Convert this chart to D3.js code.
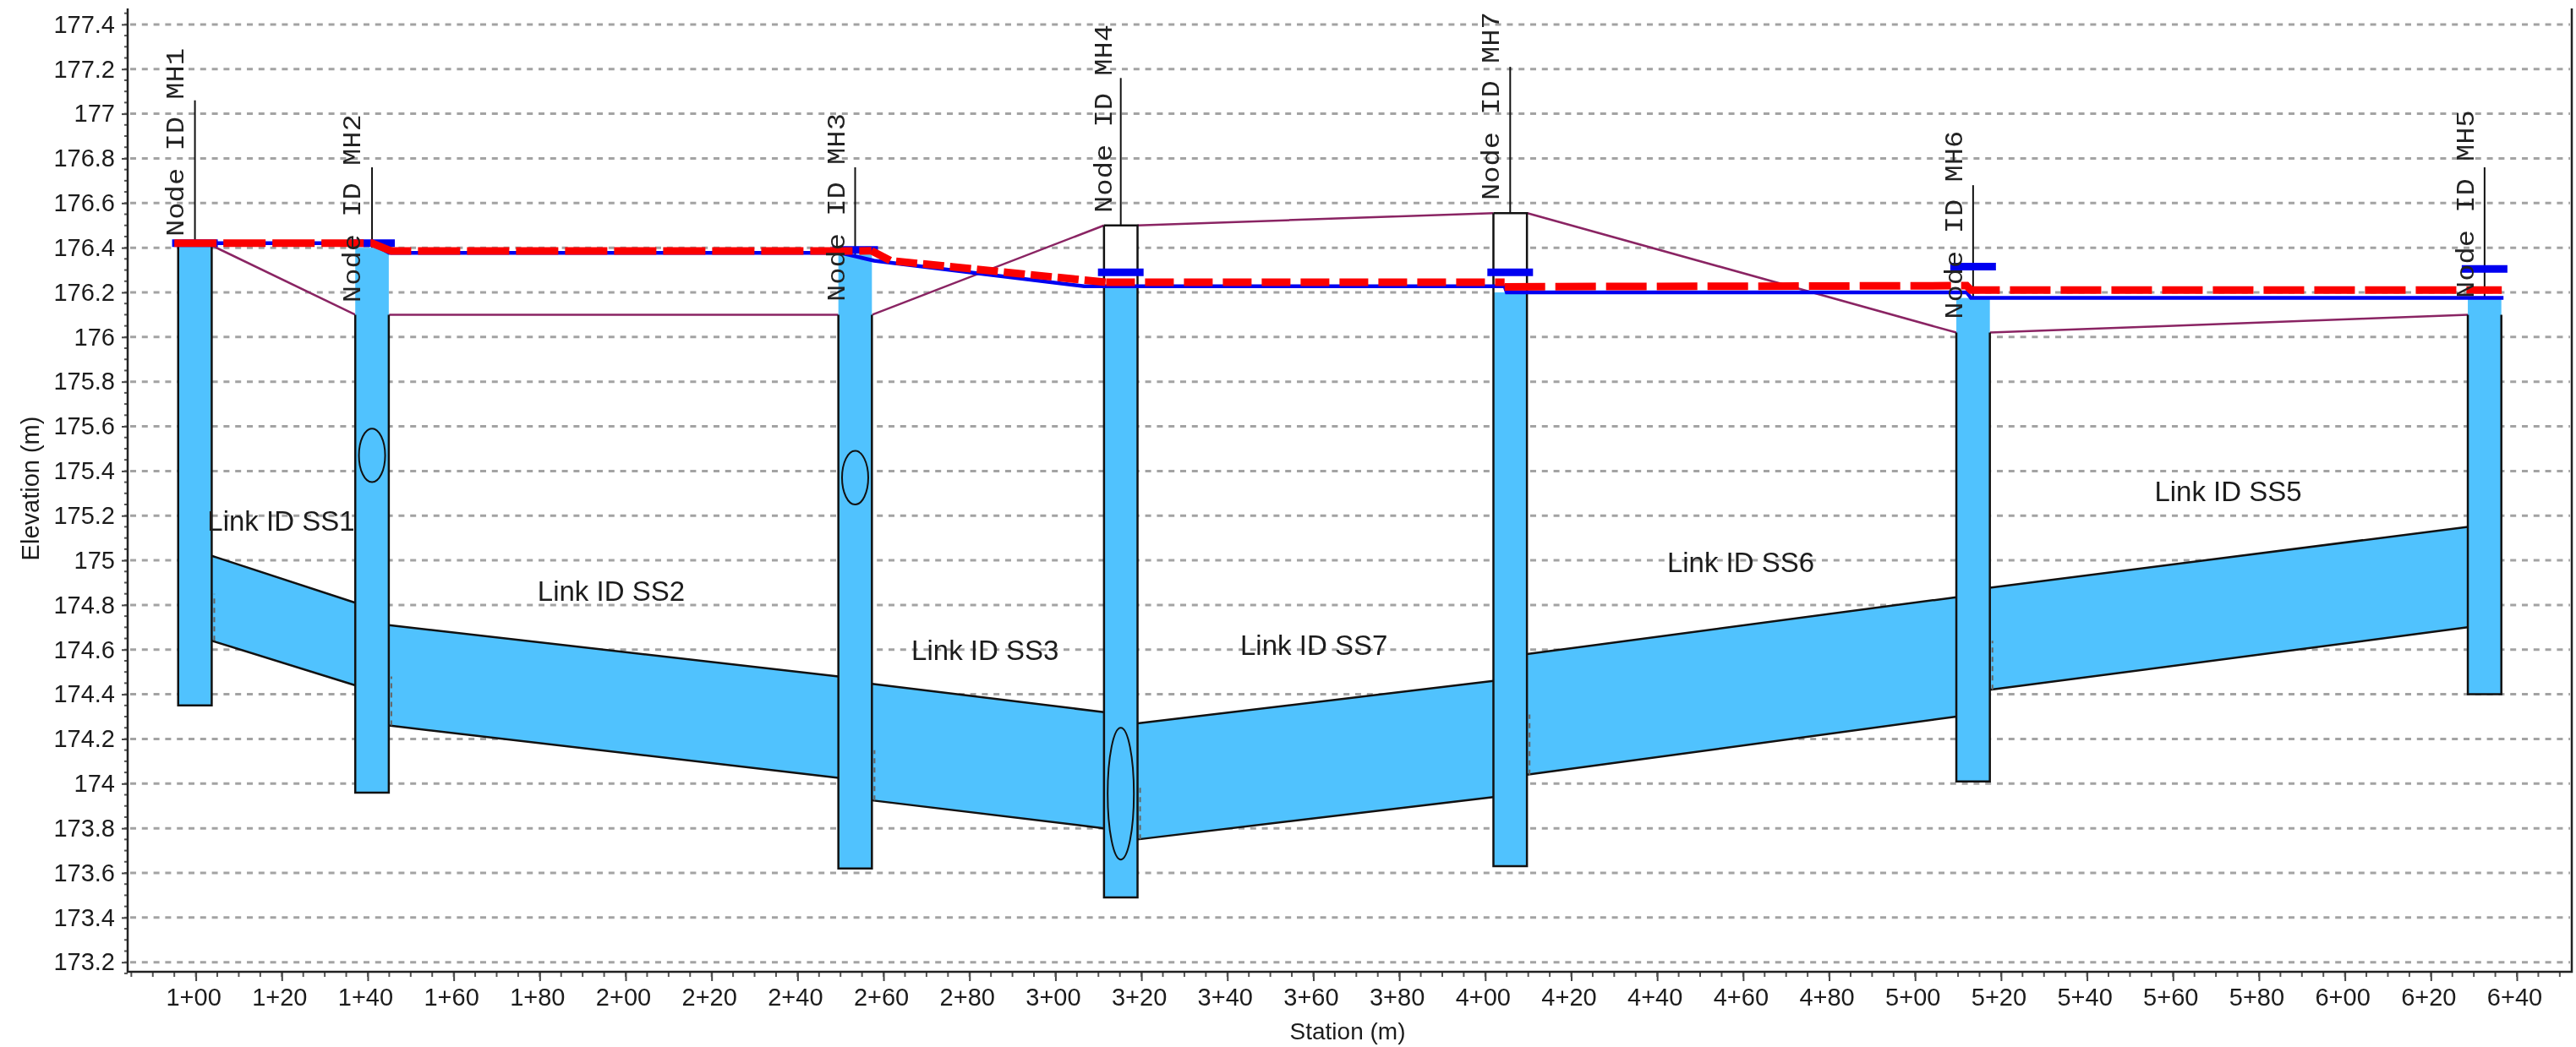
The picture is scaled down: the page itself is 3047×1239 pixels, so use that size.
<html>
<head>
<meta charset="utf-8" />
<script src="https://d3js.org/d3.v7.min.js"></script>
<style>
    body { margin: 0; background: #fff; }
    svg { filter: blur(0.5px); }
    text { font-family: "Liberation Sans", Arial, sans-serif; fill: #1c1c1c; }
    .tick text { font-size: 29px; }
    .node-label { font-family: "Liberation Mono", monospace; font-size: 30px; fill: #222; }
    .link-label { font-size: 33px; }
    .axis-title { font-size: 28px; }
</style>
</head>
<body>
<svg id="chart" width="3047" height="1239"></svg>
<script>
// manholes
let nodeIds = ["MH1", "MH2", "MH3", "MH4", "MH7", "MH6", "MH5"]
let nodeStation = [99.8, 141, 253.4, 315.2, 405.8, 513.5, 632.5]
let nodeRim = [176.41, 176.10, 176.10, 176.50, 176.555, 176.02, 176.10]
let nodeWater = [176.41, 176.40, 176.37, 176.23, 176.20, 176.175, 176.175]
let nodeInvert = [174.35, 173.96, 173.62, 173.49, 173.63, 174.01, 174.40]
let nodeStem = [177.06, 176.76, 176.76, 177.16, 177.21, 176.68, 176.76]
let nodeMark = [176.42, 176.42, 176.39, 176.29, 176.29, 176.315, 176.305]
let nodeClosed = [false, false, false, true, true, false, false]

// label anchor: elevation of the bottom of the rotated label, station of its baseline
let labelStation = [97.1, 138.2, 250.9, 313, 403.2, 511, 630]
let labelElev = [176.45, 176.154, 176.158, 176.556, 176.612, 176.08, 176.173]

// conduits between manholes, as from/to index into the node arrays
let linkIds = ["SS1", "SS2", "SS3", "SS7", "SS6", "SS5"]
let linkFrom = [0, 1, 2, 3, 4, 5]
let linkTo = [1, 2, 3, 4, 5, 6]
let linkTopA = [175.02, 174.71, 174.447, 174.27, 174.58, 174.877]
let linkTopB = [174.81, 174.48, 174.32, 174.46, 174.835, 175.15]
let linkBotA = [174.64, 174.26, 173.925, 173.75, 174.04, 174.42]
let linkBotB = [174.44, 174.026, 173.80, 173.94, 174.30, 174.70]
let linkSideTop = [174.85, 174.48, 174.15, 174.0, 174.31, 174.64]
let linkLabelStation = [102.7, 179.5, 266.5, 343, 442.3, 555.7]
let linkLabelElev = [175.133, 174.82, 174.555, 174.575, 174.948, 175.265]

// ground profile
let groundStation = [103.7, 137.1, 145, 249.5, 257.4, 311.3, 319.1, 401.9, 409.8, 509.6, 517.4, 628.6]
let groundElev = [176.41, 176.10, 176.10, 176.10, 176.10, 176.50, 176.50, 176.555, 176.555, 176.02, 176.02, 176.10]

// blue hydraulic grade line
let hglStation = [100, 141, 145, 250, 257.8, 306.7, 404.5, 405, 512, 513, 636.9]
let hglElev = [176.42, 176.42, 176.377, 176.377, 176.342, 176.227, 176.227, 176.2, 176.2, 176.175, 176.175]

// red dashed energy line, one array per stretch
let egl1Station = [95, 141, 145.5, 249, 257.2]
let egl1Elev = [176.42, 176.42, 176.385, 176.385, 176.386]
let egl2Station = [257.2, 261.6, 311.8]
let egl2Elev = [176.386, 176.342, 176.245]
let egl3Station = [311.8, 404.5]
let egl3Elev = [176.245, 176.245]
let egl4Station = [404.5, 512, 513, 636.5]
let egl4Elev = [176.225, 176.23, 176.21, 176.21]

// ellipses inside manholes
let ellipseStation = [141, 253.4, 315.2]
let ellipseTop = [175.59, 175.49, 174.25]
let ellipseBottom = [175.35, 175.25, 173.66]

let yMajor = d3.range(0, 22).map(i => +(173.2 + i * 0.2).toFixed(1))
let yMinor = d3.range(0, 87).map(i => +(173.15 + i * 0.05).toFixed(2))
let xMajor = d3.range(100, 641, 20)
let xMinor = d3.range(85, 651, 5)

let x = d3.scaleLinear().domain([100, 640]).range([231.6, 2977])
let y = d3.scaleLinear().domain([173.2, 177.4]).range([1138.7, 28.9])
let left = 151
let right = 3042
let top_ = 10
let bottom = 1150
let halfWidth = 3.9
let stationLabel = d => Math.floor(d / 100) + "+" + String(d % 100).padStart(2, "0")

let svg = d3.select("#chart")

// dashed grid
svg.append("g").selectAll("line").data(yMajor).enter().append("line")
    .attr("x1", left + 3).attr("x2", right - 2)
    .attr("y1", d => y(d)).attr("y2", d => y(d))
    .attr("stroke", "#a3a3a3").attr("stroke-width", 3).attr("stroke-dasharray", "7,6.8")

// conduits
let linkPoly = d3.line().x(d => x(d[0])).y(d => y(d[1]))
let links = svg.append("g")
linkIds.forEach((id, i) => {
    let a = nodeStation[linkFrom[i]] + halfWidth
    let b = nodeStation[linkTo[i]] - halfWidth
    links.append("path")
        .attr("d", linkPoly([[a, linkTopA[i]], [b, linkTopB[i]], [b, linkBotB[i]], [a, linkBotA[i]]]) + "Z")
        .attr("fill", "#50c2fe")
    links.append("path").attr("d", linkPoly([[a, linkTopA[i]], [b, linkTopB[i]]]))
        .attr("fill", "none").attr("stroke", "#111").attr("stroke-width", 2.5)
    links.append("path").attr("d", linkPoly([[a, linkBotA[i]], [b, linkBotB[i]]]))
        .attr("fill", "none").attr("stroke", "#111").attr("stroke-width", 2.5)
    links.append("path").attr("d", linkPoly([[a + 0.6, linkBotA[i]], [a + 0.6, linkSideTop[i]]]))
        .attr("fill", "none").attr("stroke", "#666").attr("stroke-width", 2).attr("stroke-dasharray", "6,5")
})

// ground, drawn one stretch at a time so it breaks across the manholes
let ground = svg.append("g")
for (let i = 0; i < groundStation.length; i += 2) {
    ground.append("line")
        .attr("x1", x(groundStation[i])).attr("x2", x(groundStation[i + 1]))
        .attr("y1", y(groundElev[i])).attr("y2", y(groundElev[i + 1]))
        .attr("stroke", "#8a2463").attr("stroke-width", 2.5)
}

// manholes
let nodes = svg.append("g")
nodeIds.forEach((id, i) => {
    let s = nodeStation[i]
    let x0 = x(s - halfWidth)
    let x1 = x(s + halfWidth)
    let top = Math.max(nodeRim[i], nodeWater[i])
    // white box hides the grid above the water
    nodes.append("rect")
        .attr("x", x0).attr("width", x1 - x0)
        .attr("y", y(top)).attr("height", y(nodeInvert[i]) - y(top))
        .attr("fill", "#fff")
    nodes.append("rect")
        .attr("x", x0).attr("width", x1 - x0)
        .attr("y", y(nodeWater[i])).attr("height", y(nodeInvert[i]) - y(nodeWater[i]))
        .attr("fill", "#50c2fe")
    let pts = [[x0, y(nodeRim[i])], [x0, y(nodeInvert[i])], [x1, y(nodeInvert[i])], [x1, y(nodeRim[i])]]
    if (nodeClosed[i]) pts.push(pts[0])
    nodes.append("path").attr("d", d3.line()(pts))
        .attr("fill", "none").attr("stroke", "#111").attr("stroke-width", 2.5)
    nodes.append("line")
        .attr("x1", x(s)).attr("x2", x(s))
        .attr("y1", y(nodeStem[i])).attr("y2", y(top))
        .attr("stroke", "#111").attr("stroke-width", 2)
})

svg.append("g").selectAll("ellipse").data(ellipseStation).enter().append("ellipse")
    .attr("cx", d => x(d))
    .attr("cy", (d, i) => (y(ellipseTop[i]) + y(ellipseBottom[i])) / 2)
    .attr("rx", 15.5)
    .attr("ry", (d, i) => (y(ellipseBottom[i]) - y(ellipseTop[i])) / 2)
    .attr("fill", "none").attr("stroke", "#111").attr("stroke-width", 2)

// hydraulic grade line and the short level marks
let level = d3.line().x(d => x(d[0])).y(d => y(d[1]))
svg.append("path").attr("d", level(d3.zip(hglStation, hglElev)))
    .attr("fill", "none").attr("stroke", "#0000f0").attr("stroke-width", 4.5)
svg.append("g").selectAll("line").data(nodeStation).enter().append("line")
    .attr("x1", d => x(d) - 27).attr("x2", d => x(d) + 27)
    .attr("y1", (d, i) => y(nodeMark[i])).attr("y2", (d, i) => y(nodeMark[i]))
    .attr("stroke", "#0000f0").attr("stroke-width", 9)

// red dashed line
let eglParts = [
    [egl1Station, egl1Elev, "50,8"],
    [egl2Station, egl2Elev, "25,7"],
    [egl3Station, egl3Elev, "34,12"],
    [egl4Station, egl4Elev, "48,12"]
]
eglParts.forEach(p => {
    svg.append("path").attr("d", level(d3.zip(p[0], p[1])))
        .attr("fill", "none").attr("stroke", "#fb0000").attr("stroke-width", 9)
        .attr("stroke-dasharray", p[2])
})

// labels
nodeIds.forEach((id, i) => {
    svg.append("text").attr("class", "node-label")
        .attr("transform", `translate(${x(labelStation[i])},${y(labelElev[i])}) rotate(-90)`)
        .attr("textLength", 223).attr("lengthAdjust", "spacingAndGlyphs")
        .text("Node ID " + id)
})
linkIds.forEach((id, i) => {
    svg.append("text").attr("class", "link-label")
        .attr("x", x(linkLabelStation[i])).attr("y", y(linkLabelElev[i]))
        .text("Link ID " + id)
})

// axes
let yAxis = d3.axisLeft(y).tickValues(yMajor).tickSize(7).tickPadding(8).tickFormat(d => String(d))
let gy = svg.append("g").attr("transform", `translate(${left},0)`).call(yAxis)
gy.select(".domain").remove()
gy.selectAll(".tick line").attr("stroke", "#444").attr("stroke-width", 2)
gy.selectAll(".tick text").attr("fill", "#1c1c1c").style("font-size", "29px").style("font-family", "Liberation Sans")
gy.append("g").selectAll("line").data(yMinor).enter().append("line")
    .attr("x1", -4).attr("x2", 0).attr("y1", d => y(d)).attr("y2", d => y(d))
    .attr("stroke", "#555").attr("stroke-width", 2)

let xAxis = d3.axisBottom(x).tickValues(xMajor).tickSize(11).tickPadding(8).tickFormat(stationLabel)
let gx = svg.append("g").attr("transform", `translate(0,${bottom})`).call(xAxis)
gx.select(".domain").remove()
gx.selectAll(".tick line").attr("stroke", "#444").attr("stroke-width", 2)
gx.selectAll(".tick text").attr("fill", "#1c1c1c").style("font-size", "29px").style("font-family", "Liberation Sans").attr("dx", -3)
gx.append("g").selectAll("line").data(xMinor).enter().append("line")
    .attr("x1", d => x(d)).attr("x2", d => x(d)).attr("y1", 0).attr("y2", 6)
    .attr("stroke", "#555").attr("stroke-width", 2)

// frame: left, bottom, right
svg.append("path")
    .attr("d", d3.line()([[left, top_], [left, bottom], [right, bottom], [right, top_]]))
    .attr("fill", "none").attr("stroke", "#222").attr("stroke-width", 2.5)

svg.append("text").attr("class", "axis-title")
    .attr("transform", `translate(46,578) rotate(-90)`).attr("text-anchor", "middle")
    .style("font-size", "29px")
    .text("Elevation (m)")
svg.append("text").attr("class", "axis-title")
    .attr("x", 1594).attr("y", 1230).attr("text-anchor", "middle")
    .text("Station (m)")
</script>
</body>
</html>
